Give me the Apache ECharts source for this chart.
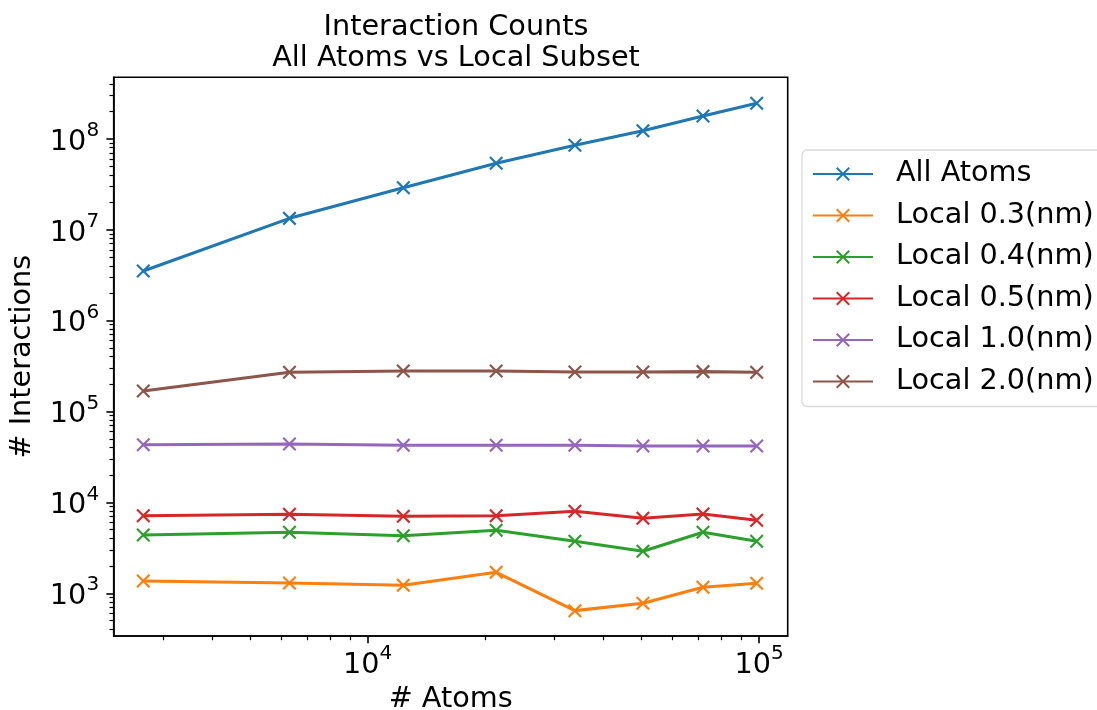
<!DOCTYPE html>
<html>
<head>
<meta charset="utf-8">
<script src="https://cdn.jsdelivr.net/npm/echarts@6/dist/echarts.min.js"></script>
<style>
  html, body { margin: 0; padding: 0; background: #fff; }
  #chart { width: 1097px; height: 710px; }
</style>
</head>
<body>
<div id="chart"></div>
<script>
// Number of atoms in each system
const atoms = [2670, 6310, 12330, 21300, 33840, 50510, 71920, 98650];

// Interaction counts per system
const allAtoms = [3.51e6, 1.33e7, 2.89e7, 5.36e7, 8.46e7, 1.225e8, 1.777e8, 2.452e8];
const local03 = [1366, 1298, 1225, 1702, 644, 776, 1164, 1288];
const local04 = [4377, 4688, 4300, 4932, 3732, 2897, 4688, 3732];
const local05 = [7137, 7393, 7030, 7137, 7978, 6680, 7450, 6354];
const local10 = [43100, 43870, 42450, 42450, 42450, 41700, 41700, 41700];
const local20 = [167900, 269600, 278600, 278600, 271600, 271600, 274000, 270000];

const seriesNames = ['All Atoms', 'Local 0.3(nm)', 'Local 0.4(nm)', 'Local 0.5(nm)', 'Local 1.0(nm)', 'Local 2.0(nm)'];
const seriesValues = [allAtoms, local03, local04, local05, local10, local20];
const colors = ['#1f77b4', '#ff7f0e', '#2ca02c', '#d62728', '#9467bd', '#8c564b'];

// Tick positions (decades and the in-between minor ticks)
const xMajorTicks = [1e4, 1e5];
const xMinorTicks = [3000, 4000, 5000, 6000, 7000, 8000, 9000,
                     20000, 30000, 40000, 50000, 60000, 70000, 80000, 90000];
const yMajorTicks = [1e3, 1e4, 1e5, 1e6, 1e7, 1e8];
const yMinorTicks = [400, 500, 600, 700, 800, 900,
                     2e3, 3e3, 4e3, 5e3, 6e3, 7e3, 8e3, 9e3,
                     2e4, 3e4, 4e4, 5e4, 6e4, 7e4, 8e4, 9e4,
                     2e5, 3e5, 4e5, 5e5, 6e5, 7e5, 8e5, 9e5,
                     2e6, 3e6, 4e6, 5e6, 6e6, 7e6, 8e6, 9e6,
                     2e7, 3e7, 4e7, 5e7, 6e7, 7e7, 8e7, 9e7,
                     2e8, 3e8, 4e8];

const FONT = 'DejaVu Sans';
const FS = 28.7;

const powLabel = v => '{b|10}{e|' + Math.round(Math.log10(v)) + '}';
const powRich = {
  b: { fontSize: FS, fontFamily: FONT, color: '#000', lineHeight: 36, verticalAlign: 'bottom' },
  e: { fontSize: 20, fontFamily: FONT, color: '#000', lineHeight: 20, verticalAlign: 'top' }
};

const crossSymbol = 'path://M0,0L10,10M10,0L0,10';

const xRange = { min: 2243, max: 118390 };
const yRange = { min: 339, max: 4.735e8 };

const chart = echarts.init(document.getElementById('chart'), null, { renderer: 'canvas' });

chart.setOption({
  animation: false,
  backgroundColor: '#fff',
  textStyle: { fontFamily: FONT },
  title: {
    text: 'Interaction Counts\nAll Atoms vs Local Subset',
    left: 451,
    top: 7,
    textAlign: 'center',
    textStyle: { fontSize: FS, fontWeight: 'normal', color: '#000', fontFamily: FONT, lineHeight: 31 }
  },
  grid: {
    left: 113.7, right: 309.3, top: 77.3, bottom: 74,
    outerBoundsMode: 'none',
    containLabel: false,
    show: true, borderColor: '#000', borderWidth: 1.6, backgroundColor: '#fff'
  },
  legend: {
    orient: 'vertical',
    left: 802,
    top: 150,
    padding: [7, 20, 8, 10],
    itemWidth: 60,
    itemHeight: 15.6,
    itemGap: 7.5,
    borderColor: '#d9d9d9',
    borderWidth: 1.3,
    borderRadius: 5,
    backgroundColor: '#fff',
    textStyle: { fontSize: FS, color: '#000', fontFamily: FONT, lineHeight: 34, padding: [0, 0, 0, 18] },
    data: seriesNames
  },
  xAxis: [
    {
      type: 'log', logBase: 10, position: 'bottom',
      min: xRange.min, max: xRange.max,
      name: '# Atoms', nameLocation: 'middle', nameGap: 44,
      nameTextStyle: { fontSize: FS, color: '#000', fontFamily: FONT },
      axisLine: { show: true, onZero: false, lineStyle: { color: '#000', width: 1.6 } },
      axisTick: { show: true, customValues: xMajorTicks, length: 7.3, lineStyle: { color: '#000', width: 1.6 } },
      axisLabel: { customValues: xMajorTicks, formatter: powLabel, rich: powRich, margin: 8, color: '#000' },
      splitLine: { show: false }
    },
    {
      type: 'log', logBase: 10, position: 'bottom',
      min: xRange.min, max: xRange.max,
      axisLine: { show: false, onZero: false },
      axisTick: { show: true, customValues: xMinorTicks, length: 4.2, lineStyle: { color: '#000', width: 1.2 } },
      axisLabel: { show: false },
      splitLine: { show: false }
    }
  ],
  yAxis: [
    {
      type: 'log', logBase: 10, position: 'left',
      min: yRange.min, max: yRange.max,
      name: '# Interactions', nameLocation: 'middle', nameGap: 77,
      nameTextStyle: { fontSize: FS, color: '#000', fontFamily: FONT },
      axisLine: { show: true, onZero: false, lineStyle: { color: '#000', width: 1.6 } },
      axisTick: { show: true, customValues: yMajorTicks, length: 7.3, lineStyle: { color: '#000', width: 1.6 } },
      axisLabel: { customValues: yMajorTicks, formatter: powLabel, rich: powRich, margin: 14.6, color: '#000' },
      splitLine: { show: false }
    },
    {
      type: 'log', logBase: 10, position: 'left',
      min: yRange.min, max: yRange.max,
      axisLine: { show: false, onZero: false },
      axisTick: { show: true, customValues: yMinorTicks, length: 4.2, lineStyle: { color: '#000', width: 1.2 } },
      axisLabel: { show: false },
      splitLine: { show: false }
    }
  ],
  series: seriesValues.map((vals, i) => ({
    name: seriesNames[i],
    type: 'line',
    xAxisIndex: 0,
    yAxisIndex: 0,
    data: atoms.map((x, j) => [x, vals[j]]),
    symbol: crossSymbol,
    symbolSize: 12.5,
    showSymbol: true,
    lineStyle: { color: colors[i], width: 3.1 },
    itemStyle: { color: colors[i], borderColor: colors[i], borderWidth: 2.2 },
    emphasis: { disabled: true },
    z: 2 + i
  }))
});
</script>
</body>
</html>
